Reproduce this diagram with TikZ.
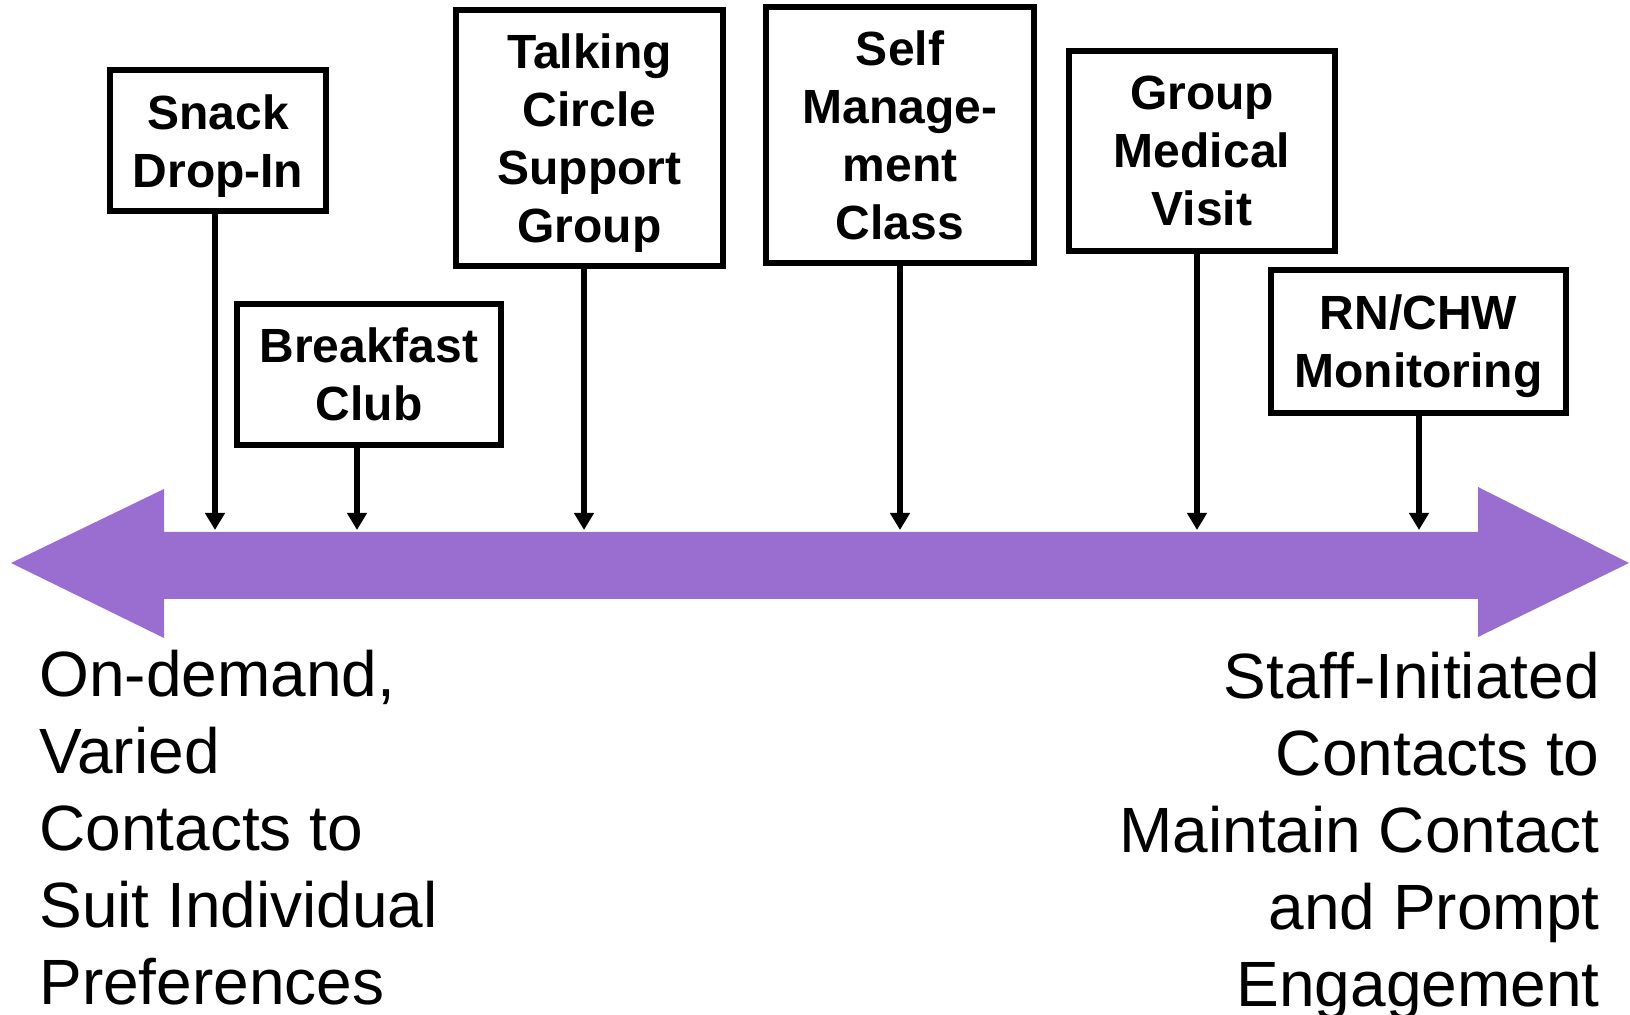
\documentclass[tikz,border=0pt]{standalone}
\usepackage{fontspec}
\setmainfont{Liberation Sans}
\usetikzlibrary{arrows.meta}
\definecolor{barpurple}{RGB}{154,110,208}
\newcommand{\topgap}{\rule{0pt}{0.94em}}

\begin{document}
\begin{tikzpicture}[x=0.5pt,y=-0.5pt,
        box/.style={draw,line width=2.8pt,align=center,inner sep=0pt,font=\fontsize{24}{29}\selectfont\bfseries},
        stem/.style={line width=2.8pt,-{Triangle[width=9.5pt,length=8.5pt]}},
        side/.style={inner sep=0pt,font=\fontsize{32}{38.5}\selectfont}]
        \useasboundingbox (0,0) rectangle (1630,1015);
        % timeline bar
        \fill[barpurple] (11,563)--(164,489)--(164,532)--(1478,532)--(1478,487)--(1629,563)
            --(1478,637)--(1478,599)--(164,599)--(164,638)--cycle;
        % boxes
        \node[box,minimum width=108pt,minimum height=70.5pt] (snack) at (218,140.5) {\topgap Snack\\Drop-In};
        \node[box,minimum width=132pt,minimum height=70.5pt] (breakfast) at (369,374.5) {Breakfast\\Club};
        \node[box,minimum width=133.5pt,minimum height=128pt] (talking) at (589.5,138) {\topgap Talking\\Circle\\Support\\Group};
        \node[box,minimum width=134pt,minimum height=128pt] (selfmgmt) at (900,135) {Self\\Manage-\\ment\\Class};
        \node[box,minimum width=133pt,minimum height=100pt] (groupvisit) at (1202,151) {Group\\Medical\\Visit};
        \node[box,minimum width=147.5pt,minimum height=71.5pt] (rnchw) at (1418.5,341.5) {\topgap RN/CHW\\Monitoring};
        % stems down to the bar
        \foreach \n/\x in {snack/215,breakfast/357,talking/584,selfmgmt/900,groupvisit/1197,rnchw/1419}
            {
                \coordinate (\n-tip) at (\x,530);
                \draw[stem] (\n.south -| \n-tip)--(\n-tip);
            }
        % ends of the scale
        \node[side,align=left,anchor=north west] (ondemand) at (39,650)
            {On-demand,\\Varied\\Contacts to\\Suit Individual\\Preferences};
        \node[side,align=right,anchor=north east] (staff) at (1600,652)
            {Staff-Initiated\\Contacts to\\Maintain Contact\\and Prompt\\Engagement};
    \end{tikzpicture}
\end{document}
